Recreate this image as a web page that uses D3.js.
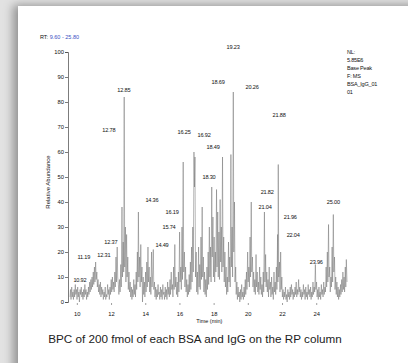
<!DOCTYPE html>
<html>
<head>
<meta charset="utf-8">
<script src="https://cdn.jsdelivr.net/npm/d3@7"></script>
<style>
  html, body { margin: 0; padding: 0; }
  body { width: 408px; height: 363px; overflow: hidden; background: #e2e2e2; position: relative; font-family: "Liberation Sans", Arial, sans-serif; }
  .card { position: absolute; left: 18px; top: 6px; width: 420px; height: 380px; background: #fff; box-shadow: -5px -1px 9px rgba(0,0,0,0.35); }
  svg { position: absolute; left: 0; top: 0; }
</style>
</head>
<body>
<div class="card"></div>
<div id="chart"></div>
<script>
// base peak chromatogram, [time (min), relative abundance (%)]
const trace = [
  [9.60,2],[9.63,5],[9.66,1],[9.70,6],[9.73,2],[9.77,4],[9.80,1],[9.84,5],[9.87,2],[9.91,7],
  [9.94,3],[9.98,5],[10.01,1],[10.05,6],[10.08,2],[10.12,4],[10.15,0],[10.19,5],[10.22,3],[10.26,6],
  [10.29,2],[10.33,4],[10.36,1],[10.40,5],[10.43,2],[10.47,7],[10.50,3],[10.54,5],[10.57,1],[10.61,4],
  [10.64,2],[10.68,6],[10.71,3],[10.75,8],[10.78,4],[10.82,9],[10.85,5],[10.89,10],[10.92,6],[10.96,12],
  [10.99,7],[11.03,14],[11.06,8],[11.10,16],[11.13,9],[11.17,12],[11.20,6],[11.24,9],[11.27,4],[11.31,7],
  [11.34,3],[11.38,8],[11.41,2],[11.45,6],[11.48,3],[11.52,5],[11.55,1],[11.59,4],[11.62,2],[11.66,6],
  [11.69,1],[11.73,3],[11.76,2],[11.80,7],[11.83,3],[11.87,5],[11.90,1],[11.94,6],[11.97,3],[12.01,9],
  [12.04,4],[12.08,10],[12.11,5],[12.15,8],[12.18,4],[12.22,12],[12.25,6],[12.29,18],[12.32,8],[12.36,22],
  [12.39,10],[12.43,7],[12.46,3],[12.50,9],[12.53,4],[12.57,15],[12.60,6],[12.64,38],[12.67,10],[12.71,24],
  [12.74,12],[12.77,82],[12.80,14],[12.84,30],[12.87,8],[12.91,27],[12.94,10],[12.98,18],[13.01,5],[13.05,12],
  [13.08,4],[13.12,8],[13.15,2],[13.19,6],[13.22,1],[13.26,5],[13.29,2],[13.33,9],[13.36,3],[13.40,7],
  [13.43,2],[13.47,12],[13.50,5],[13.54,20],[13.57,8],[13.60,36],[13.63,10],[13.67,18],[13.70,6],[13.74,23],
  [13.77,8],[13.81,14],[13.84,0],[13.88,10],[13.91,3],[13.95,8],[13.98,2],[14.02,12],[14.05,4],[14.09,16],
  [14.12,6],[14.16,22],[14.19,8],[14.23,14],[14.26,4],[14.30,10],[14.33,3],[14.37,20],[14.40,6],[14.44,12],
  [14.47,21],[14.50,5],[14.54,8],[14.57,2],[14.61,6],[14.64,1],[14.68,5],[14.71,2],[14.75,7],[14.78,3],
  [14.82,4],[14.85,1],[14.89,6],[14.92,2],[14.96,5],[14.99,1],[15.03,7],[15.06,3],[15.10,4],[15.13,1],
  [15.17,6],[15.20,2],[15.24,5],[15.27,1],[15.31,8],[15.34,3],[15.38,6],[15.41,2],[15.45,9],[15.48,3],
  [15.52,12],[15.55,5],[15.59,7],[15.62,2],[15.66,14],[15.69,5],[15.73,23],[15.76,6],[15.80,10],[15.83,3],
  [15.87,8],[15.90,2],[15.94,12],[15.97,4],[16.01,28],[16.04,8],[16.08,14],[16.11,5],[16.15,30],[16.18,9],
  [16.22,56],[16.25,12],[16.29,20],[16.32,6],[16.36,14],[16.39,4],[16.43,9],[16.46,2],[16.50,7],[16.53,3],
  [16.57,11],[16.60,4],[16.64,16],[16.67,5],[16.71,22],[16.74,8],[16.78,30],[16.81,12],[16.85,60],[16.88,46],
  [16.91,58],[16.94,10],[16.98,20],[17.01,4],[17.05,12],[17.08,3],[17.12,22],[17.15,6],[17.19,15],[17.22,5],
  [17.26,26],[17.29,9],[17.33,38],[17.36,10],[17.40,18],[17.43,4],[17.47,12],[17.50,3],[17.54,9],[17.57,2],
  [17.61,14],[17.64,5],[17.68,20],[17.71,7],[17.75,30],[17.78,10],[17.82,22],[17.85,8],[17.89,46],[17.92,18],
  [17.96,34],[17.99,10],[18.03,26],[18.06,8],[18.10,20],[18.13,12],[18.17,45],[18.20,14],[18.24,36],[18.27,10],
  [18.31,28],[18.34,9],[18.38,41],[18.41,16],[18.45,30],[18.48,12],[18.52,58],[18.55,14],[18.59,26],[18.62,8],
  [18.66,20],[18.69,6],[18.73,14],[18.76,3],[18.80,10],[18.83,4],[18.87,24],[18.90,8],[18.94,18],[18.97,6],
  [19.01,59],[19.04,14],[19.08,30],[19.11,10],[19.15,84],[19.18,20],[19.22,40],[19.25,8],[19.29,14],[19.32,3],
  [19.36,8],[19.39,1],[19.43,6],[19.46,2],[19.50,4],[19.53,0],[19.57,5],[19.60,1],[19.64,7],[19.67,2],
  [19.71,4],[19.74,1],[19.78,6],[19.81,2],[19.85,9],[19.88,3],[19.92,12],[19.95,5],[19.99,20],[20.02,8],
  [20.06,14],[20.09,6],[20.13,26],[20.16,10],[20.20,40],[20.23,12],[20.27,18],[20.30,6],[20.34,12],[20.37,4],
  [20.41,9],[20.44,3],[20.48,19],[20.51,6],[20.55,12],[20.58,4],[20.62,8],[20.65,3],[20.69,14],[20.72,5],
  [20.76,10],[20.79,3],[20.83,7],[20.86,2],[20.90,12],[20.93,4],[20.97,36],[21.00,8],[21.04,19],[21.07,6],
  [21.11,12],[21.14,4],[21.18,9],[21.21,2],[21.25,14],[21.28,5],[21.32,8],[21.35,2],[21.39,10],[21.42,3],
  [21.46,6],[21.49,1],[21.53,12],[21.56,4],[21.60,8],[21.63,3],[21.67,14],[21.70,5],[21.74,27],[21.76,8],
  [21.78,55],[21.81,10],[21.85,16],[21.88,4],[21.92,20],[21.95,5],[21.99,10],[22.02,2],[22.06,5],[22.09,1],
  [22.13,4],[22.16,2],[22.20,6],[22.23,1],[22.27,3],[22.30,0],[22.34,5],[22.37,2],[22.41,4],[22.44,1],
  [22.48,6],[22.51,2],[22.55,7],[22.58,3],[22.62,5],[22.65,1],[22.69,4],[22.72,2],[22.76,6],[22.79,3],
  [22.83,8],[22.86,2],[22.90,5],[22.93,3],[22.97,9],[23.00,4],[23.04,6],[23.07,2],[23.11,5],[23.14,1],
  [23.18,4],[23.21,2],[23.25,7],[23.28,3],[23.32,5],[23.35,1],[23.39,6],[23.42,2],[23.46,4],[23.49,1],
  [23.53,7],[23.56,3],[23.60,5],[23.63,2],[23.67,6],[23.70,1],[23.74,4],[23.77,2],[23.81,8],[23.84,3],
  [23.88,6],[23.91,4],[23.95,15],[23.98,5],[24.02,8],[24.05,2],[24.09,5],[24.12,1],[24.16,6],[24.19,2],
  [24.23,4],[24.26,1],[24.30,7],[24.33,3],[24.37,5],[24.40,2],[24.44,8],[24.47,3],[24.51,6],[24.54,4],
  [24.58,14],[24.61,6],[24.65,20],[24.68,8],[24.72,31],[24.75,10],[24.79,14],[24.82,4],[24.86,10],[24.89,6],
  [24.93,22],[24.96,8],[25.00,35],[25.03,12],[25.07,18],[25.10,5],[25.14,10],[25.17,3],[25.21,8],[25.24,2],
  [25.28,6],[25.31,1],[25.35,5],[25.38,2],[25.42,7],[25.45,3],[25.49,9],[25.52,4],[25.56,12],[25.59,5],
  [25.63,10],[25.66,4],[25.70,14],[25.73,6],[25.76,17],[25.80,8]
];

// peak annotations: text, time where drawn, abundance where drawn
const peakText = ['19.23','18.69','20.26','12.85','12.78','16.25','16.92','18.49','18.30','21.88','21.82','21.04',
  '21.96','22.04','23.96','25.00','14.36','16.19','15.74','14.49','12.37','12.31','11.19','10.92'];
const peakTime = [19.14,18.26,20.25,12.75,11.87,16.27,17.44,17.97,17.73,21.83,21.13,21.01,
  22.48,22.65,24.00,25.00,14.39,15.57,15.39,14.98,11.99,11.58,10.41,10.18];
const peakLevel = [102,88,86,85,69,68,67,62,50,75,44,38,34,27,16,40,41,36,30,23,24,19,18,9];

const yTicks = [0,10,20,30,40,50,60,70,80,90,100];
const xTicks = [10,12,14,16,18,20,22,24];
const infoLines = ['NL:','5.85E6','Base Peak','F:  MS','BSA_IgG_01','01'];
const rtRange = [9.60, 25.80];
const caption = 'BPC of 200 fmol of each BSA and IgG on the RP column';

const width = 408, height = 363;
const margin = {top: 52, right: 61, bottom: 61, left: 70};

const svg = d3.select('#chart').append('svg')
  .attr('width', width)
  .attr('height', height)
  .style('font-family', '"Liberation Sans", Arial, sans-serif');

const x = d3.scaleLinear()
  .domain(rtRange)
  .range([margin.left, width - margin.right]);

const y = d3.scaleLinear()
  .domain([0, 100])
  .range([height - margin.bottom, margin.top]);

// y axis
svg.append('g')
  .attr('transform', 'translate(' + (margin.left - 2) + ',0)')
  .call(d3.axisLeft(y).tickValues(yTicks).tickSize(3).tickPadding(1))
  .call(g => g.select('.domain').attr('stroke', '#444').attr('stroke-width', 0.7))
  .call(g => g.selectAll('.tick line').attr('stroke', '#444').attr('stroke-width', 0.7))
  .call(g => g.selectAll('.tick text').attr('font-size', 5.8).attr('fill', '#111'));

// x axis (ticks only)
svg.append('g')
  .attr('transform', 'translate(0,' + (height - margin.bottom + 1) + ')')
  .call(d3.axisBottom(x).tickValues(xTicks).tickSize(2).tickPadding(7))
  .call(g => g.select('.domain').remove())
  .call(g => g.selectAll('.tick line').attr('stroke', '#777').attr('stroke-width', 0.7))
  .call(g => g.selectAll('.tick text').attr('font-size', 5.8).attr('fill', '#111'));

// trace
const line = d3.line()
  .x(d => x(d[0]))
  .y(d => y(d[1]));

svg.append('path')
  .datum(trace)
  .attr('fill', 'none')
  .attr('stroke', '#707070')
  .attr('stroke-width', 0.5)
  .attr('stroke-linejoin', 'miter')
  .attr('d', line);

// peak labels
svg.append('g')
  .selectAll('text')
  .data(peakText)
  .enter()
  .append('text')
  .attr('x', (d, i) => x(peakTime[i]))
  .attr('y', (d, i) => y(peakLevel[i]))
  .attr('text-anchor', 'middle')
  .attr('dominant-baseline', 'central')
  .attr('font-size', 5.6)
  .attr('letter-spacing', -0.2)
  .attr('fill', '#111')
  .text(d => d);

// axis titles
svg.append('text')
  .attr('transform', 'translate(48,' + y(48) + ') rotate(-90)')
  .attr('text-anchor', 'middle')
  .attr('dominant-baseline', 'central')
  .attr('font-size', 6)
  .attr('fill', '#111')
  .text('Relative Abundance');

svg.append('text')
  .attr('x', x(17.75))
  .attr('y', height - margin.bottom + 21)
  .attr('text-anchor', 'middle')
  .attr('font-size', 5.5)
  .attr('fill', '#111')
  .text('Time (min)');

// RT range
const rt = svg.append('text')
  .attr('x', 40)
  .attr('y', 39)
  .attr('font-size', 5.5)
  .attr('fill', '#111');
rt.append('tspan').text('RT: ');
rt.append('tspan').attr('fill', '#3b4fc4').text(rtRange[0].toFixed(2) + ' - ' + rtRange[1].toFixed(2));

// instrument info block
svg.append('g')
  .selectAll('text')
  .data(infoLines)
  .enter()
  .append('text')
  .attr('x', 347)
  .attr('y', (d, i) => 54 + i * 8)
  .attr('font-size', 5.5)
  .attr('letter-spacing', -0.2)
  .attr('fill', '#111')
  .text(d => d);

// caption
svg.append('text')
  .attr('x', 195)
  .attr('y', 343)
  .attr('text-anchor', 'middle')
  .attr('font-size', 11.7)
  .attr('fill', '#222')
  .text(caption);
</script>
</body>
</html>
